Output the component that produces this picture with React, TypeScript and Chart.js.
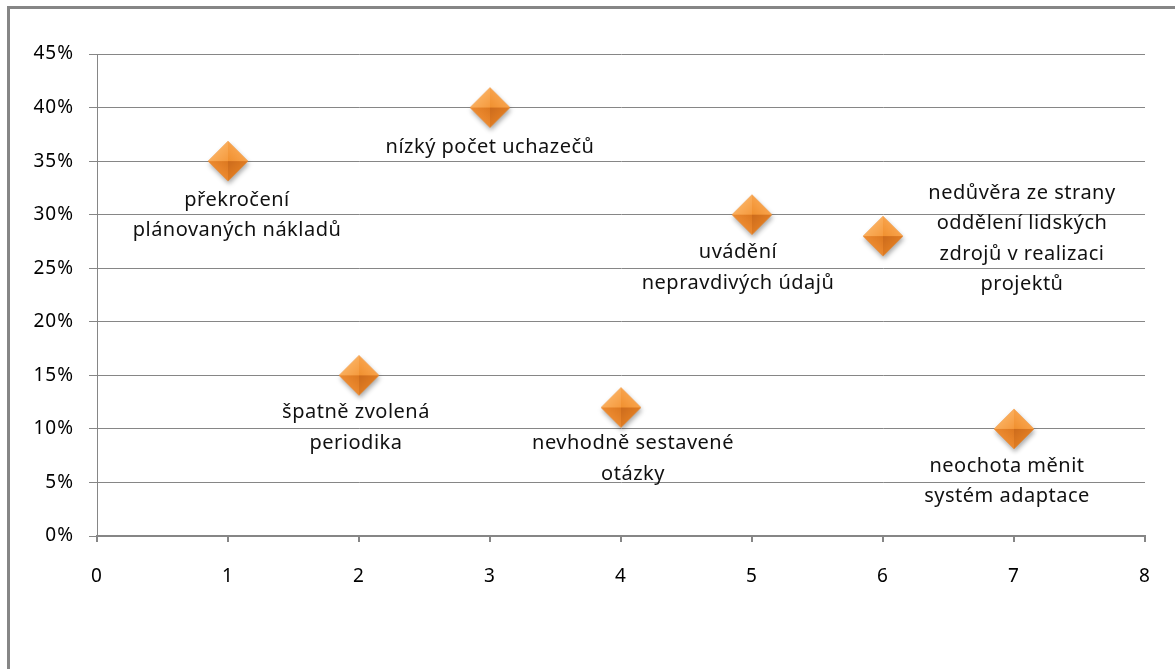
import { useEffect, useRef } from "react";
import { Chart, registerables } from "chart.js";

Chart.register(...registerables);

// Problem areas (x position) and their share of responses (%)
const xValues = [1, 2, 3, 4, 5, 6, 7];
const yValues = [35, 15, 40, 12, 30, 28, 10];
const pointLabels: string[][] = [
  ["překročení", "plánovaných nákladů"],
  ["špatně zvolená", "periodika"],
  ["nízký počet uchazečů"],
  ["nevhodně sestavené", "otázky"],
  ["uvádění", "nepravdivých údajů"],
  ["nedůvěra ze strany", "oddělení lidských", "zdrojů v realizaci", "projektů"],
  ["neochota měnit", "systém adaptace"],
];
const xTickRange = [0, 8];
const yTickRange = [0, 45];

// Where each label's first line sits relative to its marker (px)
const labelOffsets = [
  [9, 39],
  [-3, 37],
  [0, 40],
  [12, 36],
  [-14, 38],
  [139, -43],
  [-7, 37],
];

const W = 1175;
const H = 669;
const GRID = "#868686";
const FONT = "'Noto Sans', sans-serif";

function makeDiamond(): HTMLCanvasElement {
  const c = document.createElement("canvas");
  const s = 60;
  c.width = s;
  c.height = s;
  const g = c.getContext("2d")!;
  const cx = s / 2;
  const cy = s / 2;
  const r = 20;
  // soft drop shadow
  g.save();
  g.shadowColor = "rgba(0,0,0,0.35)";
  g.shadowBlur = 5;
  g.shadowOffsetX = 1;
  g.shadowOffsetY = 3;
  g.beginPath();
  g.moveTo(cx, cy - r);
  g.lineTo(cx + r, cy);
  g.lineTo(cx, cy + r);
  g.lineTo(cx - r, cy);
  g.closePath();
  g.fillStyle = "#E8872F";
  g.fill();
  g.restore();

  const top: [number, number] = [cx, cy - r];
  const right: [number, number] = [cx + r, cy];
  const bottom: [number, number] = [cx, cy + r];
  const left: [number, number] = [cx - r, cy];
  const facets: [[number, number], [number, number], string, string][] = [
    [left, top, "#FAAE5C", "#F59A3E"],
    [top, right, "#F8A24A", "#F0902F"],
    [right, bottom, "#E07C22", "#CC6B1C"],
    [bottom, left, "#EC8A30", "#DC7820"],
  ];
  for (const [a, b, c1, c2] of facets) {
    const mx = (a[0] + b[0]) / 2;
    const my = (a[1] + b[1]) / 2;
    const grad = g.createLinearGradient(mx, my, cx, cy);
    grad.addColorStop(0, c1);
    grad.addColorStop(1, c2);
    g.beginPath();
    g.moveTo(cx, cy);
    g.lineTo(a[0], a[1]);
    g.lineTo(b[0], b[1]);
    g.closePath();
    g.fillStyle = grad;
    g.fill();
  }
  return c;
}

// Slightly wider tracking for all axis text
const trackingPlugin = {
  id: "tracking",
  beforeDraw(chart: any) {
    (chart.ctx as any).letterSpacing = "1px";
  },
};

const pointLabelPlugin = {
  id: "pointLabels",
  afterDatasetsDraw(chart: any) {
    const ctx = chart.ctx as CanvasRenderingContext2D;
    const meta = chart.getDatasetMeta(0);
    ctx.save();
    ctx.font = `20px ${FONT}`;
    (ctx as any).letterSpacing = "0.5px";
    ctx.fillStyle = "#111";
    ctx.textAlign = "center";
    ctx.textBaseline = "middle";
    meta.data.forEach((pt: any, i: number) => {
      const [dx, dy] = labelOffsets[i];
      pointLabels[i].forEach((line, k) => {
        ctx.fillText(line, pt.x + dx, pt.y + dy + k * 30.5);
      });
    });
    ctx.restore();
  },
};

export default function App() {
  const ref = useRef<HTMLCanvasElement>(null);

  useEffect(() => {
    const canvas = ref.current!;
    const diamond = makeDiamond();
    const chart = new Chart(canvas, {
      type: "scatter",
      data: {
        datasets: [
          {
            data: xValues.map((x, i) => ({ x, y: yValues[i] })),
            pointStyle: diamond as any,
            pointRadius: 20,
            pointHoverRadius: 20,
            showLine: false,
          },
        ],
      },
      options: {
        animation: false,
        responsive: false,
        events: [],
        layout: { padding: { top: 54, right: 30, left: 0, bottom: 0 } },
        plugins: {
          legend: { display: false },
          tooltip: { enabled: false },
        },
        scales: {
          x: {
            type: "linear",
            min: xTickRange[0],
            max: xTickRange[1],
            afterFit: (s: any) => {
              s.height = 133;
            },
            ticks: {
              stepSize: 1,
              padding: 23,
              color: "#000",
              font: { family: FONT, size: 19 },
            },
            grid: {
              drawOnChartArea: false,
              drawTicks: true,
              tickLength: 6,
              color: GRID,
              lineWidth: 2,
            },
            border: { color: GRID, width: 2 },
          },
          y: {
            type: "linear",
            min: yTickRange[0],
            max: yTickRange[1],
            afterFit: (s: any) => {
              s.width = 97;
            },
            ticks: {
              stepSize: 5,
              padding: 15,
              color: "#000",
              font: { family: FONT, size: 19 },
              callback: (v: any) => `${v}%`,
            },
            grid: {
              drawTicks: true,
              tickLength: 8,
              color: GRID,
              lineWidth: 1,
            },
            border: { color: GRID, width: 1 },
          },
        },
      },
      plugins: [trackingPlugin, pointLabelPlugin],
    });
    return () => chart.destroy();
  }, []);

  return (
    <div
      style={{
        position: "fixed",
        left: 0,
        top: 0,
        width: W,
        height: H,
        overflow: "hidden",
        background: "#fff",
      }}
    >
      <canvas
        ref={ref}
        width={W}
        height={H}
        style={{ position: "absolute", left: 0, top: 0, width: W, height: H }}
      />
      <div
        style={{
          position: "absolute",
          left: 7,
          top: 6,
          width: W + 20,
          height: H + 20,
          border: `3px solid ${GRID}`,
          boxSizing: "border-box",
          pointerEvents: "none",
        }}
      />
    </div>
  );
}
